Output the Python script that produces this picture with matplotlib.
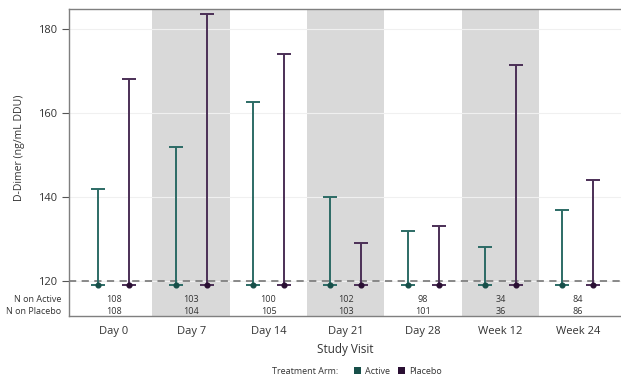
import matplotlib
matplotlib.use("Agg")
import matplotlib.pyplot as plt
import matplotlib.transforms as mtransforms
from matplotlib.patches import Patch

plt.rcParams['font.family'] = ['Open Sans', 'DejaVu Sans']

visits = ["Day 0", "Day 7", "Day 14", "Day 21", "Day 28", "Week 12", "Week 24"]
active_upper = [142, 152, 162.5, 140, 132, 128, 137]
placebo_upper = [168, 183.5, 174, 129, 133, 171.5, 144]
active_lower = [119, 119, 119, 119, 119, 119, 119]
placebo_lower = [119, 119, 119, 119, 119, 119, 119]
active_median = [119, 119, 119, 119, 119, 119, 119]
placebo_median = [119, 119, 119, 119, 119, 119, 119]
n_active = [108, 103, 100, 102, 98, 34, 84]
n_placebo = [108, 104, 105, 103, 101, 36, 86]
yticks = [120, 140, 160, 180]
ref_level = 120

c_active = "#2c6b65"
c_active_pt = "#174f49"
c_placebo = "#4b2f56"
c_placebo_pt = "#2a0f33"
text_c = "#333333"

W, H = 621, 379
fig = plt.figure(figsize=(W / 100, H / 100), dpi=100)
ax = fig.add_axes([69 / W, 1 - 316 / H, (W - 69) / W, (316 - 9) / H])

ax.set_xlim(-0.58, 6.56)
ax.set_ylim(111.67, 184.76)

# alternating shaded bands for every other visit
for i in range(len(visits)):
    if i % 2 == 1:
        ax.axvspan(i - 0.5, i + 0.5, color="#d9d9d9", lw=0, zorder=0)

# light horizontal grid
for t in yticks:
    ax.axhline(t, color="#f0f0f0", lw=0.8, zorder=0.5)

ax.axhline(ref_level, color="#808080", lw=1.3, ls=(0, (4, 3)), zorder=1)

off = 0.2
cap = 0.09
for i in range(len(visits)):
    for dx, lo, hi, med, lc, pc in (
        (-off, active_lower[i], active_upper[i], active_median[i], c_active, c_active_pt),
        (off, placebo_lower[i], placebo_upper[i], placebo_median[i], c_placebo, c_placebo_pt),
    ):
        x = i + dx
        ax.vlines(x, lo, hi, color=lc, lw=1.4, zorder=3)
        ax.hlines([lo, hi], x - cap, x + cap, color=lc, lw=1.4, zorder=3)
        ax.plot([x], [med], "o", ms=3.4, color=pc, zorder=4)

# counts per arm
trans = mtransforms.blended_transform_factory(ax.transData, ax.transAxes)
for i in range(len(visits)):
    ax.text(i, 0.055, str(n_active[i]), transform=trans, ha="center", va="center",
            fontsize=6.5, color=text_c)
    ax.text(i, 0.016, str(n_placebo[i]), transform=trans, ha="center", va="center",
            fontsize=6.5, color=text_c)
fig.text(61 / W, 1 - 299 / H, "N on Active", ha="right", va="center", fontsize=6.5, color=text_c)
fig.text(61 / W, 1 - 311 / H, "N on Placebo", ha="right", va="center", fontsize=6.5, color=text_c)

ax.set_xticks(range(len(visits)))
ax.set_xticklabels(visits)
ax.set_yticks(yticks)
ax.tick_params(axis="x", length=0, pad=7, labelsize=8, labelcolor=text_c)
ax.tick_params(axis="y", length=5, width=0.8, color="#555555", labelsize=8, labelcolor=text_c)

for s in ("top", "left", "bottom"):
    ax.spines[s].set_color("#7f7f7f")
    ax.spines[s].set_linewidth(1.0)
ax.spines["right"].set_visible(False)

ax.set_ylabel("D-Dimer (ng/mL DDU)", fontsize=7.6, color=text_c)
ax.yaxis.set_label_coords(-44 / (W - 69), (316 - 148) / 307)
fig.text(0.5 * (69 + W) / W, 1 - 350 / H, "Study Visit", ha="center", va="center",
         fontsize=8.5, color=text_c)

fig.text(272 / W, 1 - 371 / H, "Treatment Arm:", ha="left", va="center", fontsize=6.5, color=text_c)
handles = [Patch(facecolor=c_active_pt, edgecolor="none", label="Active"),
           Patch(facecolor=c_placebo_pt, edgecolor="none", label="Placebo")]
fig.legend(handles=handles, loc="center left", bbox_to_anchor=(354 / W, 1 - 371 / H),
           ncol=2, frameon=False, fontsize=6.5, handlelength=0.8, handleheight=0.8,
           handletextpad=0.4, columnspacing=0.9, borderaxespad=0, borderpad=0,
           labelcolor=text_c)

fig.savefig("out.png", dpi=100)
